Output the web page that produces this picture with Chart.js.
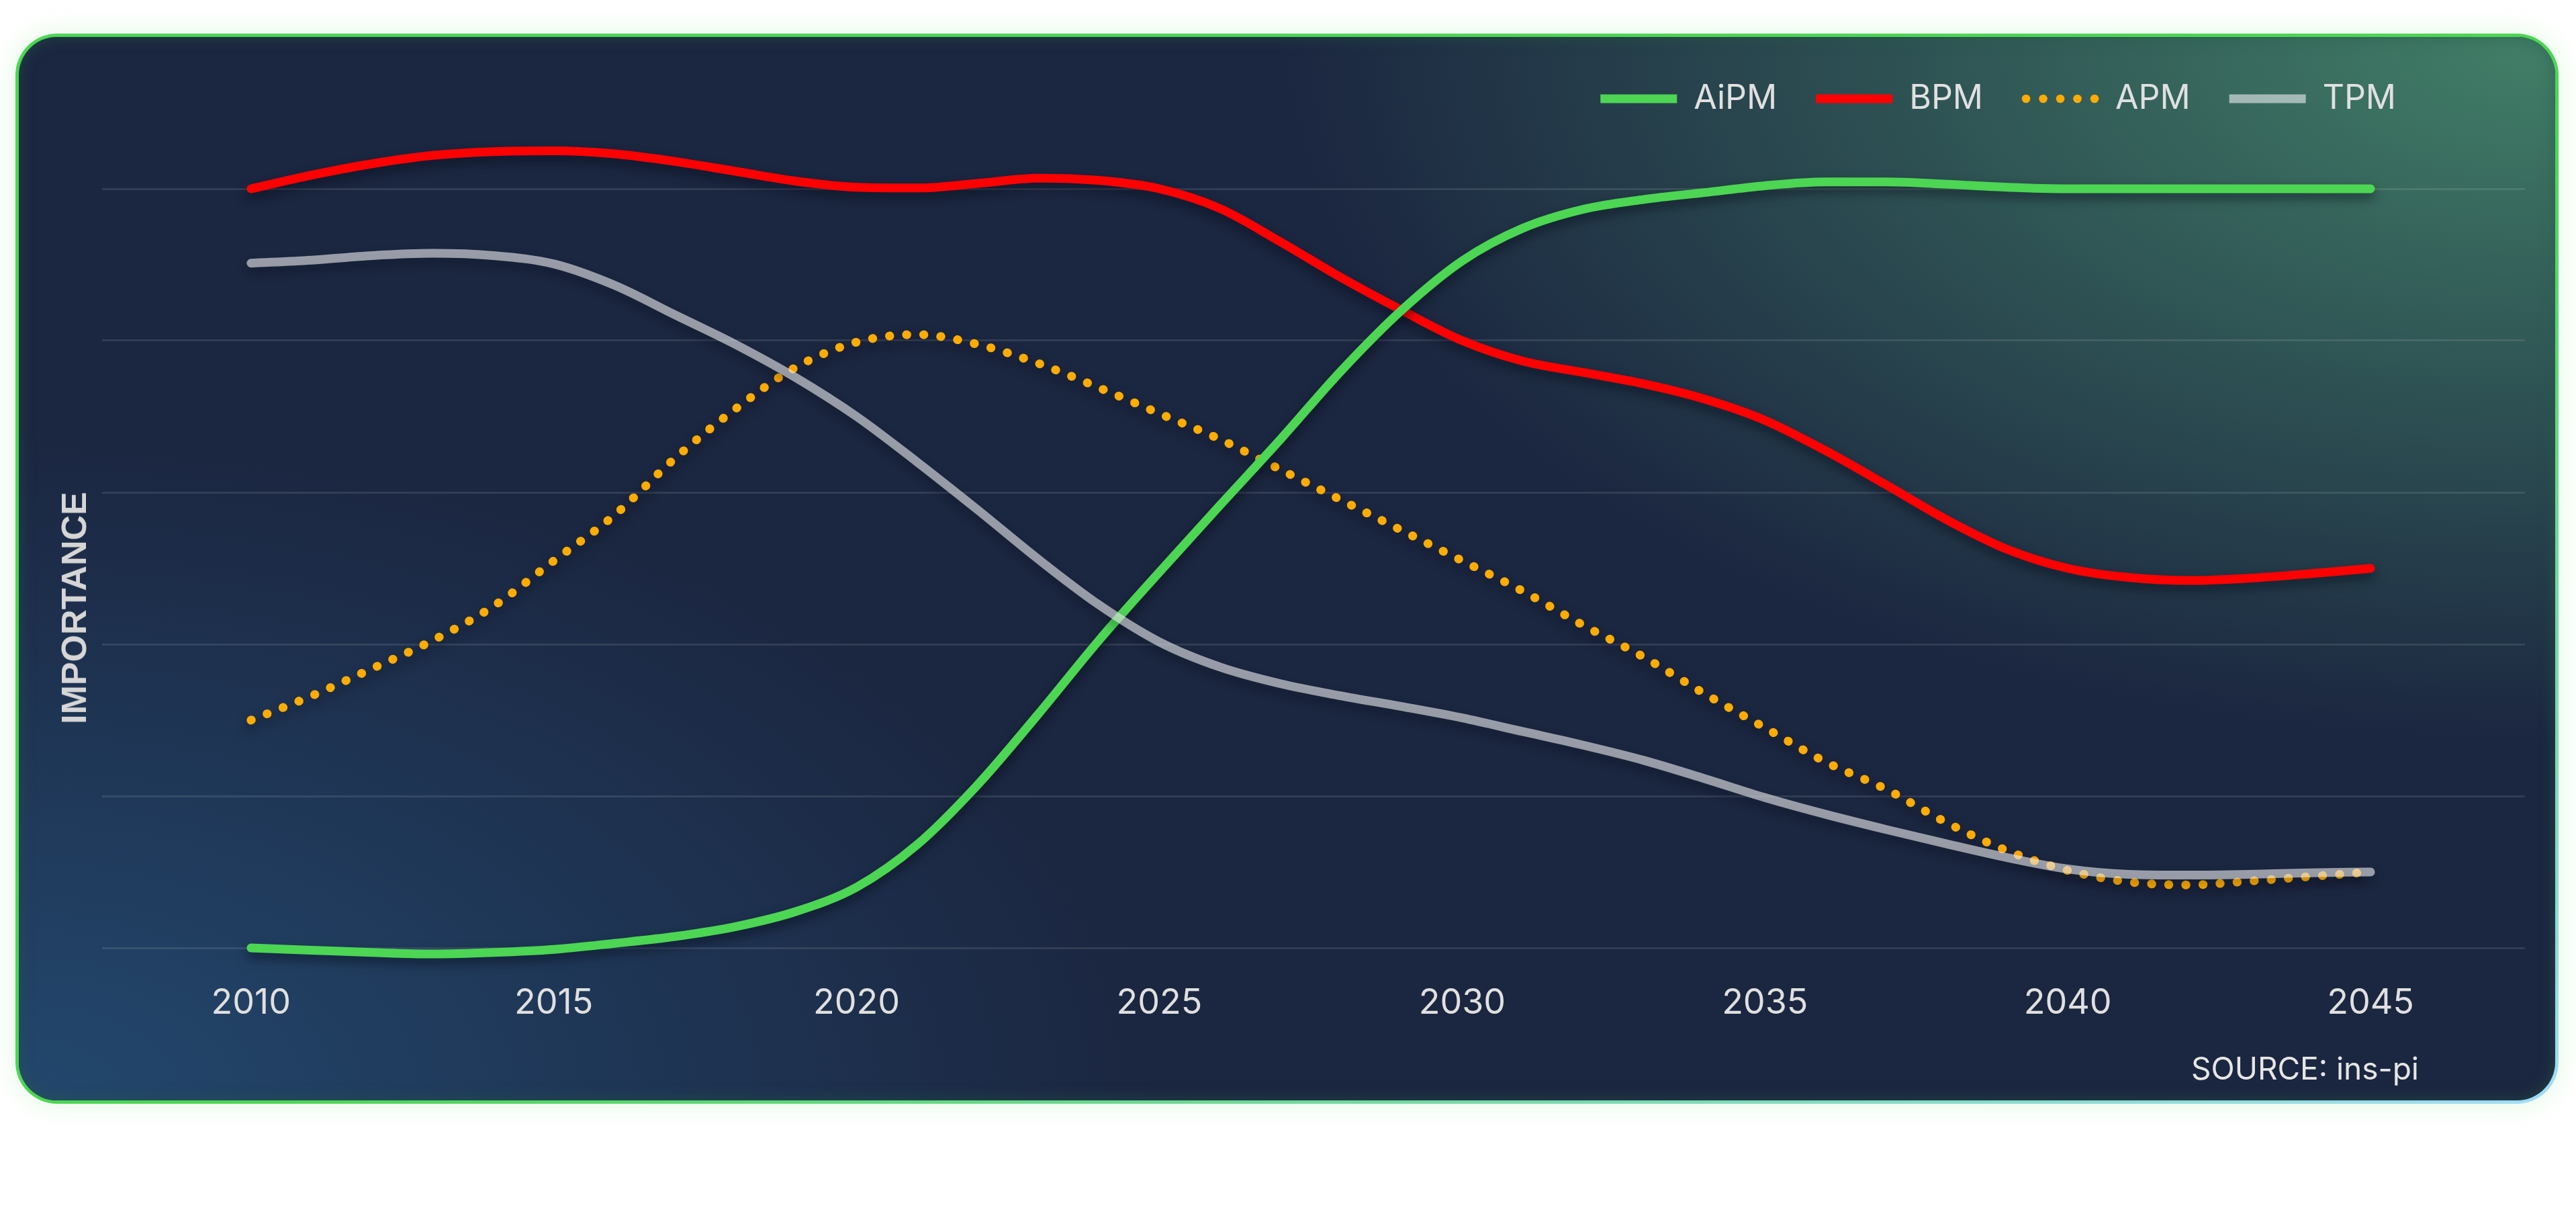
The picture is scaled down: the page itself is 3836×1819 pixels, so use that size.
<!DOCTYPE html>
<html lang="en">
<head>
<meta charset="utf-8">
<script src="https://cdn.jsdelivr.net/npm/chart.js@4.4.1/dist/chart.umd.min.js"></script>
<style>
    html, body {margin:0; padding:0; background:#fff;}
    body {width:3836px; height:1819px; position:relative; overflow:hidden;}
    .card {
        position:absolute; left:23px; top:50px; width:3787px; height:1593px;
        box-sizing:border-box; border:5px solid transparent; border-radius:62px;
        background:
            radial-gradient(ellipse 1900px 1050px at 100% 0%, rgba(66,128,104,1), rgba(27,38,64,0)) padding-box,
            radial-gradient(ellipse 1700px 1000px at 0% 100%, rgba(35,72,110,1), rgba(27,38,64,0)) padding-box,
            linear-gradient(#1b2640, #1b2640) padding-box,
            linear-gradient(to bottom right, #4cd653 55%, #86dbc8 88%, #a2ddf8 100%) border-box;
        box-shadow: 0 0 34px 6px rgba(76,214,83,0.13), inset 0 0 22px rgba(38,90,70,0.6);
    }
    #chart {position:absolute; left:0; top:0;}
    .ytitle {
        position:absolute; left:110px; top:905px;
        transform:translate(-50%, -50%) rotate(-90deg);
        font-family:"Liberation Sans", Arial, sans-serif; font-weight:bold; font-size:52px;
        color:#d6d6d6; white-space:nowrap;
    }
    .source {
        position:absolute; right:234px; top:1562px; line-height:56px;
        font-family:Inter, sans-serif; font-size:46px; color:#e6e6e6; white-space:nowrap;
    }
</style>
</head>
<body>

<div class="card"></div>
<canvas id="chart" width="3836" height="1819"></canvas>
<div class="ytitle">IMPORTANCE</div>
<div class="source">SOURCE: ins-pi</div>

<script type="text/javascript">
'use strict';

// values, one per year
var years = [2010, 2011, 2012, 2013, 2014, 2015, 2016, 2017, 2018, 2019,
             2020, 2021, 2022, 2023, 2024, 2025, 2026, 2027, 2028, 2029,
             2030, 2031, 2032, 2033, 2034, 2035, 2036, 2037, 2038, 2039,
             2040, 2041, 2042, 2043, 2044, 2045];
var aipm = [0, -0.3, -0.6, -0.8, -0.6, -0.2, 0.6, 1.5, 2.8, 4.8,
            8, 13.6, 21.5, 30.8, 40.5, 49.5, 58.3, 67, 76, 84,
            90.5, 94.8, 97.3, 98.6, 99.5, 100.4, 100.9, 100.9, 100.6, 100.2,
            100, 100, 100, 100, 100, 100];
var bpm = [100, 101.8, 103.3, 104.4, 104.9, 105, 104.6, 103.6, 102.3, 101,
           100.2, 100.1, 100.7, 101.4, 101.1, 100, 97.4, 93, 88.3, 84,
           80, 77.3, 75.8, 74.3, 72.3, 69.5, 65.5, 61, 56.4, 52.5,
           50, 48.8, 48.4, 48.7, 49.3, 50];
var apm = [30, 33.2, 36.8, 40.5, 45, 51, 57, 64.5, 71, 76.5,
           79.8, 80.8, 79.5, 77, 73.8, 70.4, 67, 63, 59, 55,
           51, 47, 42.5, 38.3, 33.5, 29, 24.5, 20.9, 16.5, 12.8,
           10.2, 8.7, 8.3, 8.8, 9.4, 10];
var tpm = [90.2, 90.6, 91.2, 91.5, 91.2, 90.1, 87.3, 83.4, 79.5, 75.1,
           70, 64, 57.7, 51.2, 45.2, 40.3, 37, 34.8, 33.2, 31.8,
           30.3, 28.5, 26.7, 24.7, 22.3, 19.8, 17.6, 15.6, 13.7, 11.9,
           10.4, 9.7, 9.6, 9.7, 9.9, 10];
var xTicks = [2010, 2015, 2020, 2025, 2030, 2035, 2040, 2045];
var yTicks = [0, 20, 40, 60, 80, 100];

var TEXT = '#e0e0e0';
var ORANGE = '#ffac00';
var LEGEND_RIGHT = 3626, LEGEND_TOP = 64;

function points(vals) {
    return vals.map(function (v, i) { return {x: years[i], y: v}; });
}

// legend symbol for the dotted series (the legend ignores borderDash with point styles)
function dotsSymbol() {
    var c = document.createElement('canvas');
    c.width = 116; c.height = 14;
    var g = c.getContext('2d');
    g.fillStyle = ORANGE;
    for (var i = 0; i < 5; i++) {
        g.beginPath();
        g.arc(7 + i * 25.5, 7, 6.3, 0, Math.PI * 2);
        g.fill();
    }
    return c;
}
var apmSymbol = dotsSymbol();

// soft dark shadow under each line
var lineShadow = {
    id: 'lineShadow',
    beforeDatasetDraw: function (chart) {
        var ctx = chart.ctx;
        ctx.save();
        ctx.shadowColor = 'rgba(4,8,18,0.5)';
        ctx.shadowBlur = 16;
        ctx.shadowOffsetY = 8;
    },
    afterDatasetDraw: function (chart) {
        chart.ctx.restore();
    }
};

// put the legend in the top right corner of the card
var legendMover = {
    id: 'legendMover',
    afterLayout: function (chart) {
        var lg = chart.legend;
        var w = lg.right - lg.left, h = lg.bottom - lg.top;
        lg.right = LEGEND_RIGHT; lg.left = LEGEND_RIGHT - w;
        lg.top = LEGEND_TOP; lg.bottom = LEGEND_TOP + h;
    }
};

function line(label, vals, color, order, dash) {
    return {
        label: label,
        data: points(vals),
        borderColor: color,
        backgroundColor: color,
        borderWidth: 13,
        borderCapStyle: 'round',
        borderJoinStyle: 'round',
        borderDash: dash || [],
        cubicInterpolationMode: 'monotone',
        pointRadius: 0,
        pointHoverRadius: 0,
        fill: false,
        clip: false,
        order: order
    };
}

function drawGraphs() {
    new Chart(document.getElementById('chart'), {
        type: 'line',
        data: {
            datasets: [
                line('AiPM', aipm, '#4cd653', 1),
                line('BPM', bpm, '#ff0000', 3),
                line('APM', apm, ORANGE, 2, [0.5, 25]),
                line('TPM', tpm, 'rgba(236,238,242,0.6)', 0)
            ]
        },
        options: {
            responsive: false,
            animation: false,
            devicePixelRatio: 1,
            layout: {padding: {left: 152, right: 76, top: 163, bottom: 258}},
            plugins: {
                tooltip: {enabled: false},
                legend: {
                    position: 'top',
                    align: 'end',
                    labels: {
                        usePointStyle: true,
                        pointStyle: 'line',
                        pointStyleWidth: 114,
                        padding: 58,
                        color: TEXT,
                        font: {family: 'Inter', size: 50},
                        sort: function (a, b) { return a.datasetIndex - b.datasetIndex; },
                        generateLabels: function (chart) {
                            var items = Chart.defaults.plugins.legend.labels.generateLabels(chart);
                            items.forEach(function (it) {
                                if (it.text === 'APM') it.pointStyle = apmSymbol;
                            });
                            return items;
                        }
                    }
                }
            },
            scales: {
                x: {
                    type: 'linear',
                    min: 2007.54,
                    max: 2047.55,
                    afterBuildTicks: function (s) {
                        s.ticks = xTicks.map(function (v) { return {value: v}; });
                    },
                    afterFit: function (s) { s.height = 150; },
                    grid: {display: false},
                    border: {display: false},
                    ticks: {
                        color: TEXT,
                        font: {family: 'Inter', size: 52},
                        padding: 43,
                        maxRotation: 0,
                        autoSkip: false,
                        callback: function (v) { return String(v); }
                    }
                },
                y: {
                    min: 0,
                    max: 100,
                    afterBuildTicks: function (s) {
                        s.ticks = yTicks.map(function (v) { return {value: v}; });
                    },
                    afterFit: function (s) { s.width = 0; },
                    grid: {color: 'rgba(255,255,255,0.1)', lineWidth: 3, drawTicks: false},
                    border: {display: false},
                    ticks: {display: false}
                }
            }
        },
        plugins: [lineShadow, legendMover]
    });
}
window.onload = function () {
    drawGraphs();
};
</script>
</body>
</html>
